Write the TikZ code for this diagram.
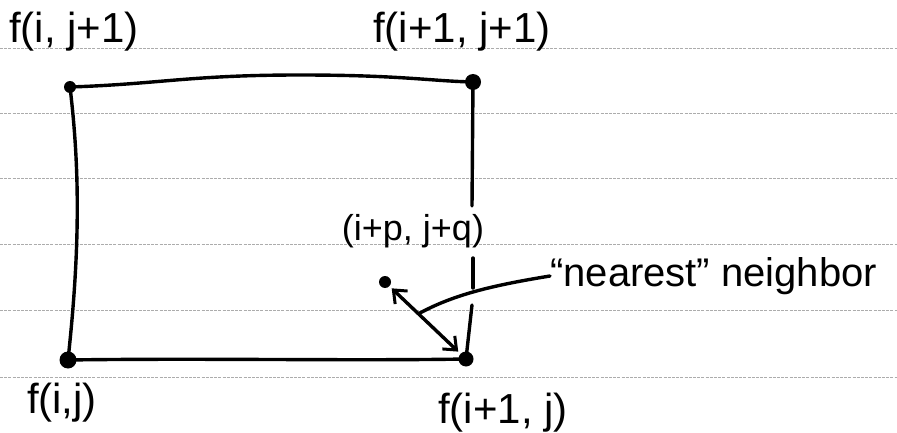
\documentclass[tikz,border=0pt]{standalone}
\usepackage{fontspec}
\setmainfont{Liberation Sans}
\usetikzlibrary{arrows.meta}
\begin{document}
\begin{tikzpicture}[x=1pt,y=-1pt,
  ink/.style={line width=3.4pt, line cap=round, line join=round},
  rule/.style={gray!65, line width=0.8pt, dash pattern=on 3pt off 1.2pt},
  lbl/.style={font=\fontsize{42}{48}\selectfont, inner sep=0pt},
  dot/.style={circle, fill=black, inner sep=0pt, minimum size=#1},
  dot/.default=12pt,
  barb/.style={{Straight Barb[length=11pt,width=18pt,line width=3pt]}-{Straight Barb[length=11pt,width=18pt,line width=3pt]}}
]
\fill[white] (0,0) rectangle (897,433);
\useasboundingbox (0,0) rectangle (897,433);
% ruled notebook lines
\foreach \yy in {48,113,178,244,310,377}
  \draw[rule] (0,\yy) -- (897,\yy);
% corner points
\node[dot=12pt] (tl) at (70,87) {};
\node[dot=16pt] (tr) at (473,82) {};
\node[dot=17pt] (bl) at (68,360) {};
\node[dot=15pt] (br) at (466,359) {};
\node[dot=12pt] (p) at (385,282) {};
% rectangle edges
\draw[ink] (tl.center) .. controls (160,84) and (190,75) .. (300,75) .. controls (400,75) and (430,81) .. (tr.center);
\draw[ink] (tl.center) .. controls (80,170) and (80,250) .. (bl.center);
\draw[ink] (bl.center) .. controls (200,358) and (350,361) .. (br.center);
\coordinate (r1) at (472,206);
\coordinate (r2) at (473,258);
\coordinate (r3) at (473,288);
\coordinate (r4) at (472,305);
\draw[ink] (tr.center) -- (r1);
\draw[ink] (r2) -- (r3);
\draw[ink] (r4) -- (br.center);
% labels
\node[lbl] (fij1) at (74,32) {f(i, j+1)};
\node[lbl] (fi1j1) at (462,32) {f(i+1, j+1)};
\node[lbl, font=\fontsize{36}{42}\selectfont] (pq) at (413,231) {(i+p, j+q)};
\node[lbl, font=\fontsize{40}{46}\selectfont, anchor=west] (nn) at (550,276) {“nearest” neighbor};
\node[lbl] (fij) at (62,403) {f(i,j)};
\node[lbl] (fi1j) at (503,413) {f(i+1, j)};
% double arrow and leader
\draw[ink, barb, shorten <=3pt, shorten >=3pt] (p) -- (br);
\coordinate (ls) at (420,313);
\draw[ink] (ls) .. controls (455,294) and (495,285) .. (nn.west);
\end{tikzpicture}
\end{document}
